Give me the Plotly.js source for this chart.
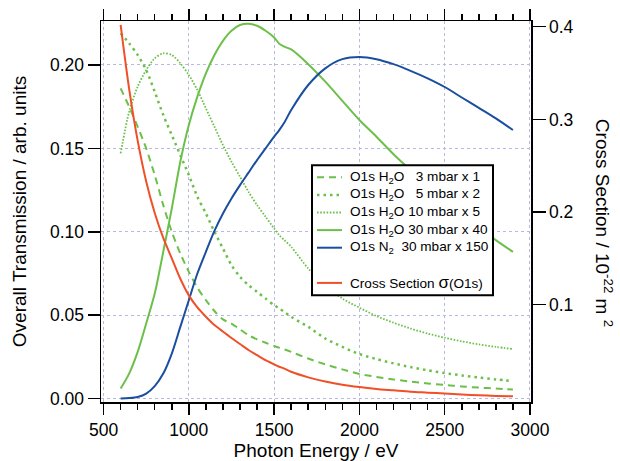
<!DOCTYPE html>
<html>
<head>
<meta charset="utf-8">
<script src="https://cdn.plot.ly/plotly-3.0.1.min.js"></script>
<style>html,body{margin:0;padding:0;background:#fff;}#chart{width:620px;height:461px;}</style>
</head>
<body>
<div id="chart"></div>
<script>
// Photon energy grid (eV)
var energy = [600,650,700,750,800,850,900,950,1000,1050,1100,1150,1200,1250,1300,1350,1400,1450,1500,1530,1560,1600,1700,1800,1900,2000,2100,2200,2300,2400,2500,2600,2700,2800,2900];

// O1s H2O 3 mbar x 1 (left axis)
var h2o3 = [0.186,0.175,0.163,0.150,0.134,0.116,0.100,0.087,0.076,0.0665,0.059,0.0525,0.0475,0.045,0.0415,0.038,0.0355,0.0335,0.0315,0.0305,0.0295,0.028,0.024,0.0205,0.0175,0.0148,0.013,0.0115,0.0102,0.0091,0.0082,0.0073,0.0066,0.006,0.0054];
// O1s H2O 5 mbar x 2
var h2o5 = [0.219,0.213,0.206,0.197,0.184,0.170,0.158,0.146,0.134,0.121,0.111,0.100,0.090,0.080,0.073,0.068,0.064,0.060,0.056,0.054,0.052,0.049,0.043,0.036,0.031,0.0267,0.0237,0.0211,0.0189,0.017,0.0153,0.0139,0.0126,0.0115,0.0105];
// O1s H2O 10 mbar x 5
var h2o10 = [0.147,0.172,0.187,0.197,0.204,0.207,0.206,0.201,0.194,0.185,0.174,0.163,0.152,0.142,0.133,0.124,0.116,0.109,0.102,0.098,0.095,0.091,0.078,0.068,0.060,0.0545,0.0495,0.0455,0.042,0.039,0.0365,0.0343,0.0325,0.031,0.0297];
// O1s H2O 30 mbar x 40
var h2o30 = [0.006,0.015,0.028,0.045,0.063,0.088,0.114,0.142,0.164,0.181,0.195,0.206,0.2145,0.2205,0.224,0.2247,0.2235,0.2205,0.2165,0.2128,0.211,0.2093,0.2005,0.190,0.1785,0.167,0.157,0.1465,0.137,0.128,0.1195,0.111,0.103,0.095,0.088];
// O1s N2 30 mbar x 150
var n2_30 = [0.0,0.0003,0.001,0.003,0.0075,0.015,0.027,0.043,0.059,0.075,0.088,0.1005,0.111,0.120,0.128,0.1355,0.143,0.150,0.157,0.161,0.1655,0.173,0.188,0.198,0.2035,0.2048,0.2035,0.2005,0.1965,0.192,0.1868,0.1805,0.1743,0.168,0.161];
// Cross section sigma(O1s) / 1e-22 m^2 (right axis)
var sigma = [0.402,0.333,0.277,0.233,0.199,0.172,0.150,0.128,0.110,0.097,0.087,0.078,0.071,0.064,0.0575,0.051,0.0455,0.040,0.0355,0.033,0.031,0.0275,0.0215,0.017,0.0135,0.011,0.009,0.0075,0.006,0.005,0.004,0.003,0.0022,0.0015,0.001];

var xTicks = [500,1000,1500,2000,2500,3000];
var yTicks = [0,0.05,0.10,0.15,0.20];
var yTickText = ['0.00','0.05','0.10','0.15','0.20'];
var y2Ticks = [0.1,0.2,0.3,0.4];
var y2TickText = ['0.1','0.2','0.3','0.4'];

var NB = '\u00a0';
var seriesNames = [
  'O1s H<sub>2</sub>O' + NB+NB+NB + '3 mbar x 1',
  'O1s H<sub>2</sub>O' + NB+NB+NB + '5 mbar x 2',
  'O1s H<sub>2</sub>O 10 mbar x 5',
  'O1s H<sub>2</sub>O 30 mbar x 40',
  'O1s N<sub>2</sub>' + NB+NB + '30 mbar x 150',
  'Cross Section <span style="font-size:17px">σ</span>(O1s)'
];

var GREEN = '#6cc04a', BLUE = '#1a4f9f', RED = '#f04f28';
var FONT = 'Liberation Sans, Arial, Helvetica, sans-serif';

var styles = [
  {color: GREEN, width: 2, dash: '7px,5px'},
  {color: GREEN, width: 2.5, dash: '2.5px,4px'},
  {color: GREEN, width: 1.8, dash: '1.6px,1.6px'},
  {color: GREEN, width: 2},
  {color: BLUE, width: 2},
  {color: RED, width: 2}
];
var seriesY = [h2o3, h2o5, h2o10, h2o30, n2_30, sigma];

var traces = seriesY.map(function (ys, i) {
  return {x: energy, y: ys, name: seriesNames[i], mode: 'lines',
          yaxis: i === 5 ? 'y2' : 'y',
          line: Object.assign({shape: 'spline', smoothing: 0.8}, styles[i]),
          showlegend: false};
});

// Hand-built legend box (pixel positions converted to paper coordinates)
var L = 101, PW = 430, B = 401.7, PH = 381;
function px(x) { return (x - L) / PW; }
function py(y) { return (B - y) / PH; }
var rowY = [177, 194.6, 212.2, 229.8, 247.4, 282.6];

var shapes = [{type: 'rect', xref: 'paper', yref: 'paper', layer: 'above',
  x0: px(312), x1: px(493), y0: py(295), y1: py(165),
  line: {color: '#000', width: 2}, fillcolor: '#fff'}];
var annotations = [];
rowY.forEach(function (ry, i) {
  shapes.push({type: 'line', xref: 'paper', yref: 'paper', layer: 'above',
    x0: px(317), x1: px(342), y0: py(ry), y1: py(ry),
    line: {color: styles[i].color, width: styles[i].width, dash: styles[i].dash || 'solid'}});
  annotations.push({text: seriesNames[i], xref: 'paper', yref: 'paper', x: px(348), y: py(ry),
    xanchor: 'left', yanchor: 'middle', showarrow: false,
    font: {family: FONT, size: 13.6, color: '#000'}});
});
annotations.push({text: 'Cross Section / 10<sup>-22</sup> m <sup>2</sup>', xref: 'paper', yref: 'paper',
  x: 1.17, y: 0.47, xanchor: 'center', yanchor: 'middle', textangle: 90,
  showarrow: false, font: {family: FONT, size: 19, color: '#000'}});

var gridCol = 'rgb(182,186,226)';

var layout = {
  width: 620, height: 461,
  margin: {l: 101, r: 89, t: 21, b: 59},
  paper_bgcolor: '#fff', plot_bgcolor: '#fff',
  font: {family: FONT, color: '#000', size: 17.5},
  showlegend: false,
  xaxis: {
    range: [485, 3006], tickvals: xTicks, ticktext: xTicks.map(String),
    ticks: 'outside', ticklen: 11, tickwidth: 1.5, tickcolor: '#000',
    showline: true, linewidth: 1.5, linecolor: '#000', mirror: 'ticks',
    showgrid: true, gridcolor: gridCol, griddash: 'dot', gridwidth: 1, zeroline: false,
    minor: {dtick: 100, tick0: 0, ticks: 'outside', ticklen: 6, tickwidth: 1.5, tickcolor: '#000', showgrid: false},
    tickfont: {size: 17.5},
    title: {text: 'Photon Energy / eV', font: {size: 19}, standoff: 7}
  },
  yaxis: {
    range: [-0.00204, 0.22637], tickvals: yTicks, ticktext: yTickText,
    ticks: 'outside', ticklen: 12, tickwidth: 1.5, tickcolor: '#000',
    showline: true, linewidth: 1.5, linecolor: '#000', mirror: true,
    showgrid: true, gridcolor: gridCol, griddash: 'dot', gridwidth: 1, zeroline: false,
    tickfont: {size: 17.5},
    title: {text: 'Overall Transmission / arb. units', font: {size: 19}, standoff: 18}
  },
  yaxis2: {
    overlaying: 'y', side: 'right', range: [-0.0051, 0.4062],
    tickvals: y2Ticks, ticktext: y2TickText,
    ticks: 'outside', ticklen: 13, tickwidth: 1.5, tickcolor: '#000',
    showline: true, linewidth: 1.5, linecolor: '#000',
    showgrid: false, zeroline: false, tickfont: {size: 17.5}
  },
  shapes: shapes,
  annotations: annotations
};

Plotly.newPlot('chart', traces, layout, {displayModeBar: false, staticPlot: true});
</script>
</body>
</html>
